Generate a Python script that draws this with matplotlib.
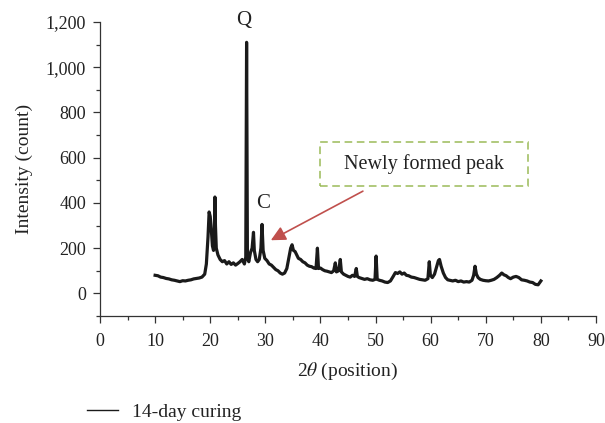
import matplotlib
matplotlib.use("Agg")
import matplotlib.pyplot as plt
from matplotlib.patches import Rectangle
from matplotlib.ticker import MultipleLocator, FuncFormatter

plt.rcParams['font.family'] = ['Liberation Serif', 'DejaVu Serif']
plt.rcParams['mathtext.fontset'] = 'stix'

two_theta = [10.0, 10.5, 11.0, 11.5, 12.0, 12.5, 13.0, 13.5, 14.0, 14.5, 15.0, 15.5, 16.0, 16.5,
             17.0, 17.5, 18.0, 18.5, 19.0, 19.3, 19.6, 19.8, 20.0, 20.2, 20.4, 20.6, 20.75, 20.85,
             20.95, 21.1, 21.4, 21.8, 22.2, 22.6, 23.0, 23.4, 23.8, 24.2, 24.6, 25.0, 25.4, 25.8,
             26.2, 26.45, 26.6, 26.75, 27.0, 27.3, 27.6, 27.85, 28.0, 28.3, 28.6, 28.9, 29.2, 29.4,
             29.6, 29.9, 30.3, 30.7, 31.1, 31.5, 31.9, 32.3, 32.7, 33.1, 33.5, 33.9, 34.3, 34.6,
             34.85, 35.1, 35.4, 35.7, 36.0, 36.4, 36.8, 37.2, 37.6, 38.0, 38.4, 38.8, 39.2, 39.45,
             39.65, 40.0, 40.4, 40.8, 41.2, 41.6, 42.0, 42.4, 42.7, 42.9, 43.3, 43.6, 43.8, 44.2,
             44.6, 45.0, 45.4, 45.8, 46.2, 46.5, 46.7, 47.0, 47.5, 48.0, 48.5, 49.0, 49.5, 49.9,
             50.1, 50.3, 50.7, 51.2, 51.7, 52.2, 52.7, 53.2, 53.6, 54.0, 54.4, 54.8, 55.2, 55.6,
             56.0, 56.5, 57.0, 57.5, 58.0, 58.5, 59.0, 59.5, 59.75, 59.95, 60.3, 60.7, 61.0, 61.4,
             61.6, 61.9, 62.3, 62.7, 63.1, 63.5, 64.0, 64.5, 65.0, 65.5, 66.0, 66.5, 67.0, 67.5,
             67.8, 68.05, 68.3, 68.6, 69.0, 69.5, 70.0, 70.5, 71.0, 71.5, 72.0, 72.5, 72.9, 73.3,
             73.7, 74.1, 74.5, 75.0, 75.5, 76.0, 76.5, 77.0, 77.5, 78.0, 78.5, 79.0, 79.5, 79.8,
             80.0]
intensity = [80, 78, 72, 70, 66, 64, 60, 58, 55, 52, 56, 55, 58, 60,
             64, 66, 68, 72, 85, 130, 250, 360, 340, 280, 210, 190, 260, 426,
             300, 200, 170, 150, 140, 145, 130, 140, 128, 135, 125, 132, 140, 150,
             130, 160, 1110, 160, 140, 180, 200, 270, 190, 150, 140, 150, 200, 305,
             190, 155, 145, 130, 125, 115, 105, 100, 90, 85, 90, 110, 160, 200,
             215, 190, 185, 170, 155, 150, 140, 135, 125, 120, 118, 112, 110, 200,
             110, 112, 105, 100, 98, 95, 92, 100, 135, 95, 100, 150, 95, 85,
             80, 75, 72, 80, 75, 110, 75, 70, 66, 62, 65, 60, 58, 62,
             165, 62, 58, 55, 50, 48, 55, 75, 92, 88, 95, 85, 90, 80,
             78, 72, 70, 66, 62, 60, 58, 65, 140, 80, 70, 85, 110, 145,
             150, 120, 90, 70, 60, 58, 55, 58, 52, 55, 50, 52, 50, 58,
             80, 120, 85, 70, 62, 58, 56, 55, 58, 62, 70, 80, 90, 82,
             78, 70, 65, 72, 75, 70, 60, 58, 55, 50, 48, 40, 38, 48,
             55]

x_ticks = [0, 10, 20, 30, 40, 50, 60, 70, 80, 90]
y_ticks = [0, 200, 400, 600, 800, 1000, 1200]

fig = plt.figure(figsize=(6.05, 4.23), dpi=100)
ax = fig.add_axes([100/605, 1-316/423, 496/605, 294/423])

ax.plot(two_theta, intensity, color='#1a1a1a', lw=2.3, label='14-day curing')

ax.set_xlim(0, 90)
ax.set_ylim(-100, 1200)
ax.set_xticks(x_ticks)
ax.set_yticks(y_ticks)
ax.xaxis.set_minor_locator(MultipleLocator(5))
ax.yaxis.set_minor_locator(MultipleLocator(100))
ax.yaxis.set_major_formatter(FuncFormatter(lambda v, p: f"{int(v):,}"))
for s in ['top', 'right']:
    ax.spines[s].set_visible(False)
for s in ['left', 'bottom']:
    ax.spines[s].set_linewidth(0.9)
    ax.spines[s].set_color('#333333')
ax.tick_params(which='major', direction='out', length=5, width=0.9, labelsize=13, colors='#333333',
               labelcolor='#222222')
ax.tick_params(which='minor', direction='out', length=3, width=0.9, colors='#333333')
ax.tick_params(axis='y', which='major', pad=5)
ax.tick_params(axis='x', which='major', pad=7)

ax.set_xlabel(r'2$\theta$ (position)', fontsize=14, color='#222222', labelpad=8)
ax.set_ylabel('Intensity (count)', fontsize=14, color='#222222', labelpad=9)

ax.text(26.1, 1208, 'Q', fontsize=15, ha='center', va='center', color='#222222', clip_on=False)
ax.text(29.6, 398, 'C', fontsize=15, ha='center', va='center', color='#222222')

rect = Rectangle((39.9, 474), 37.8, 195, fill=False, edgecolor='#9bbb59', lw=1.1,
                 linestyle=(0, (5, 3)))
ax.add_patch(rect)
ax.text(58.8, 571, 'Newly formed peak', fontsize=14.5, ha='center', va='center', color='#222222')

ax.annotate('', xy=(31.0, 235), xytext=(47.7, 452),
            arrowprops=dict(arrowstyle='-|>', color='#c0504d', lw=1.2, mutation_scale=22,
                            shrinkA=0, shrinkB=0))

leg = ax.legend(loc='center left', bbox_to_anchor=(-13/496, -96/294), frameon=False, fontsize=14,
                handlelength=1.6, handletextpad=0.7, borderpad=0, borderaxespad=0)
for t in leg.get_texts():
    t.set_color('#222222')
leg.get_lines()[0].set_linewidth(1.0)

fig.savefig('out.png', dpi=100)
